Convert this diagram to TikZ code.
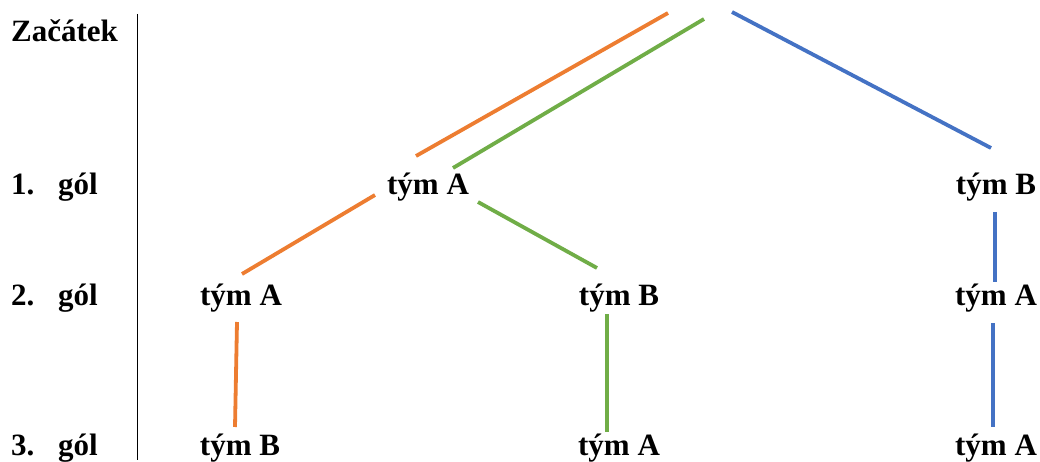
\documentclass[tikz,border=0pt]{standalone}
\usepackage{fontspec}
\setmainfont{Liberation Serif}
\begin{document}
\begin{tikzpicture}[x=1pt,y=-1pt,
  lbl/.style={inner sep=0pt,anchor=base,font=\fontsize{31}{36}\selectfont\bfseries},
  lblw/.style={lbl,anchor=base west},
  edge/.style={line width=3.8pt},
  ora/.style={edge,draw={rgb,255:red,237;green,125;blue,49}},
  grn/.style={edge,draw={rgb,255:red,112;green,173;blue,71}},
  blu/.style={edge,draw={rgb,255:red,68;green,114;blue,196}}]
\useasboundingbox (0,0) rectangle (1040,462);

% level labels on the left
\node[lblw] (start) at (11,42) {Začátek};
\node[lblw] (n1) at (11,195) {1.};
\node[lblw] (g1) at (58,195) {gól};
\node[lblw] (n2) at (11,305) {2.};
\node[lblw] (g2) at (58,305) {gól};
\node[lblw] (n3) at (11,455) {3.};
\node[lblw] (g3) at (58,455) {gól};

% separator
\coordinate (sepT) at (137,14);
\coordinate (sepB) at (137,460);
\draw[line width=1pt] (sepT) -- (sepB);

% tree of goals
\node[lbl] (a1) at (428,195) {tým A};
\node[lbl] (b1) at (996,195) {tým B};
\node[lbl] (aa2) at (241,305) {tým A};
\node[lbl] (ab2) at (619,305) {tým B};
\node[lbl] (ba2) at (996,305) {tým A};
\node[lbl] (aab3) at (240,455) {tým B};
\node[lbl] (aba3) at (619,455) {tým A};
\node[lbl] (baa3) at (996,455) {tým A};

% line ends
\coordinate (o0) at (668,13);   \coordinate (o1) at (416,156);
\coordinate (g0) at (704,19);   \coordinate (gg1) at (453,168);
\coordinate (b0) at (732,12);   \coordinate (bb1) at (991,148);
\coordinate (o2) at (375,195);  \coordinate (o3) at (242,274);
\coordinate (g2a) at (478,202); \coordinate (g3) at (597,268);
\coordinate (b2) at (995,212);  \coordinate (b3) at (995,282);
\coordinate (o4) at (237,322);  \coordinate (o5) at (235,427);
\coordinate (g4) at (607,314);  \coordinate (g5) at (607,432);
\coordinate (b4) at (993,323);  \coordinate (b5) at (993,427);

\draw[ora] (o0) -- (o1);
\draw[grn] (g0) -- (gg1);
\draw[blu] (b0) -- (bb1);
\draw[ora] (o2) -- (o3);
\draw[grn] (g2a) -- (g3);
\draw[blu] (b2) -- (b3);
\draw[ora] (o4) -- (o5);
\draw[grn] (g4) -- (g5);
\draw[blu] (b4) -- (b5);
\end{tikzpicture}
\end{document}
